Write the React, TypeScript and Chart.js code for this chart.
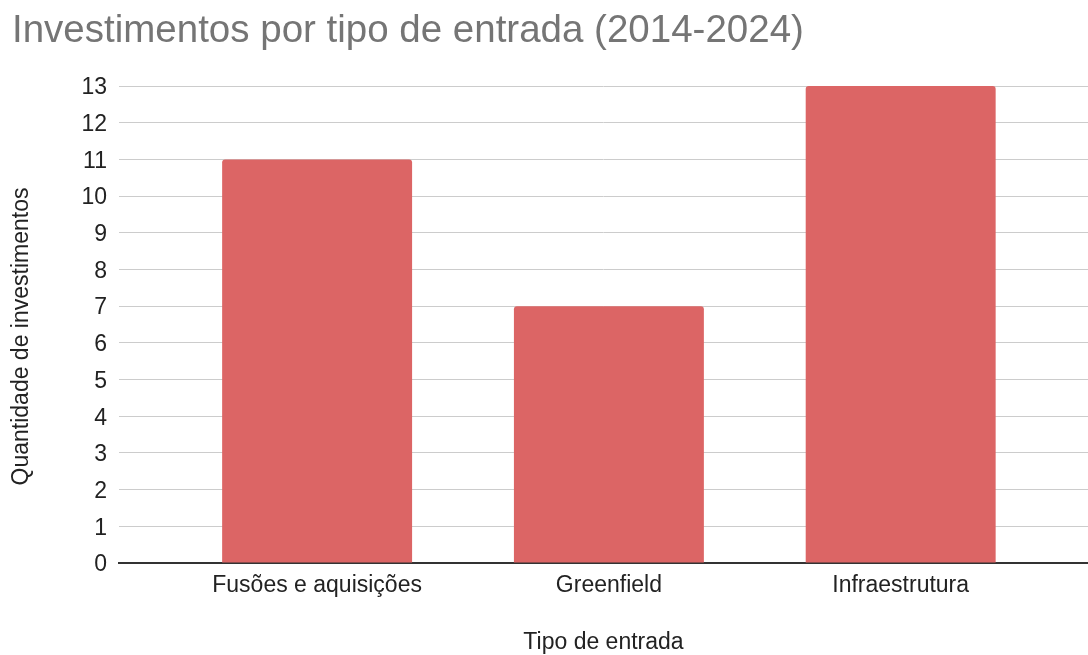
import React, { useEffect, useRef } from "react";
import { Chart, registerables } from "chart.js";

Chart.register(...registerables);

const categories: string[] = ["Fusões e aquisições", "Greenfield", "Infraestrutura"];
const investimentos: number[] = [11, 7, 13];
const yTicks: number[] = [0, 1, 2, 3, 4, 5, 6, 7, 8, 9, 10, 11, 12, 13];

const titleText = "Investimentos por tipo de entrada (2014-2024)";
const xTitle = "Tipo de entrada";
const yTitle = "Quantidade de investimentos";

const FONT = "Arial, 'Liberation Sans', Helvetica, sans-serif";

const yTitlePlugin = {
  id: "yTitlePlugin",
  afterDraw(chart: any) {
    const { ctx, chartArea } = chart;
    ctx.save();
    ctx.font = `23px ${FONT}`;
    ctx.fillStyle = "#222222";
    ctx.textAlign = "center";
    ctx.textBaseline = "middle";
    const cy = (chartArea.top + chartArea.bottom) / 2 + 12;
    ctx.translate(22, cy);
    ctx.rotate(-Math.PI / 2);
    ctx.fillText(yTitle, 0, 0);
    ctx.restore();
  },
};

export default function App() {
  const ref = useRef<HTMLCanvasElement | null>(null);

  useEffect(() => {
    document.body.style.margin = "0";
    const canvas = ref.current;
    if (!canvas) return;
    const chart = new Chart(canvas, {
      type: "bar",
      data: {
        datasets: [
          {
            label: yTitle,
            data: investimentos.map((v, i) => ({ x: i, y: v })),
            backgroundColor: "#dc6565",
            borderWidth: 0,
            borderRadius: { topLeft: 3, topRight: 3, bottomLeft: 0, bottomRight: 0 },
            borderSkipped: "start",
            categoryPercentage: 1,
            barPercentage: 0.651,
          },
        ],
      },
      plugins: [yTitlePlugin],
      options: {
        animation: false,
        responsive: true,
        maintainAspectRatio: false,
        layout: { padding: { left: 12, right: 0, top: 0, bottom: 0 } },
        plugins: {
          legend: { display: false },
          tooltip: { enabled: false },
          title: {
            display: true,
            text: titleText,
            align: "start",
            color: "#757575",
            font: { family: FONT, size: 38.5, weight: "normal", lineHeight: 1.2 },
            padding: { top: 8.5, bottom: 31.3 },
          },
        },
        scales: {
          x: {
            type: "linear",
            offset: false,
            bounds: "data",
            min: -0.679,
            max: 2.642,
            grid: { display: false, drawTicks: false, offset: false },
            border: { display: true, color: "#333333", width: 2 },
            afterBuildTicks: (scale: any) => {
              scale.ticks = categories.map((_, i) => ({ value: i }));
            },
            afterFit: (scale: any) => {
              scale.height = 92;
            },
            ticks: {
              padding: 9,
              color: "#222222",
              autoSkip: false,
              maxRotation: 0,
              font: { family: FONT, size: 23 },
              callback: (value: any) => categories[Math.round(Number(value))] ?? "",
            },
            title: {
              display: true,
              text: xTitle,
              color: "#222222",
              font: { family: FONT, size: 23, lineHeight: 1 },
              padding: { top: 0, bottom: 0.5 },
            },
          },
          y: {
            type: "linear",
            min: yTicks[0],
            max: yTicks[yTicks.length - 1],
            grid: { color: "#cccccc", lineWidth: 1, drawTicks: false },
            border: { display: false },
            afterBuildTicks: (scale: any) => {
              scale.ticks = yTicks.map((v) => ({ value: v }));
            },
            afterFit: (scale: any) => {
              scale.width = 107;
            },
            ticks: {
              padding: 12,
              labelOffset: 2,
              color: "#222222",
              font: { family: FONT, size: 23 },
            },
            title: { display: false },
          },
        },
      },
    });
    return () => chart.destroy();
  }, []);

  return (
    <div style={{ position: "absolute", left: 0, top: 0, width: 1088, height: 655 }}>
      <canvas ref={ref} />
    </div>
  );
}
